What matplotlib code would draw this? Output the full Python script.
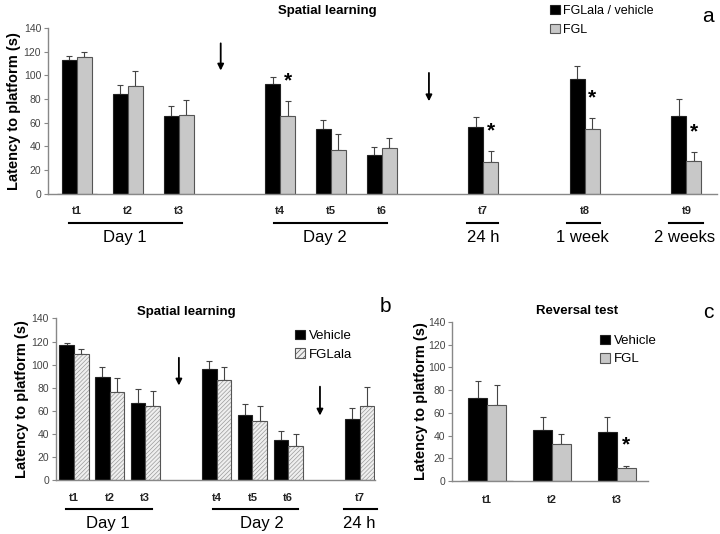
import numpy as np
import matplotlib
matplotlib.use("Agg")
import matplotlib.pyplot as plt
from matplotlib.transforms import blended_transform_factory

plt.rcParams['font.family'] = ['Liberation Sans', 'DejaVu Sans']
plt.rcParams['hatch.linewidth'] = 0.5

# ---- data: panel a (spatial learning, FGL vs FGLala/vehicle)
a_labels = ['t1', 't2', 't3', 't4', 't5', 't6', 't7', 't8', 't9']
a_vehicle = [113, 84, 65.6, 92.8, 54.3, 33, 56.6, 97, 65.6]
a_vehicle_err = [3, 7.6, 8.8, 5.6, 7.9, 6.6, 8.4, 10.7, 14.2]
a_fgl = [115.4, 91, 66.2, 65.6, 37, 38.5, 26.3, 54.3, 27.7]
a_fgl_err = [4.2, 12.8, 13, 12.4, 13, 8.5, 9.7, 9.7, 7.7]
a_sig = [False, False, False, True, False, False, True, True, True]
a_groups = ['Day 1', 'Day 2', '24 h', '1 week', '2 weeks']

# ---- data: panel b (spatial learning, vehicle vs FGLala)
b_labels = ['t1', 't2', 't3', 't4', 't5', 't6', 't7']
b_vehicle = [116.7, 89, 67.1, 96.6, 56.2, 35.1, 53.3]
b_vehicle_err = [1.7, 9.2, 11.6, 6.4, 10.1, 7.9, 9.5]
b_fglala = [109.5, 76, 64, 87, 51.6, 29.7, 64]
b_fglala_err = [4.5, 12.7, 13.5, 10.7, 12.9, 10.1, 16.4]
b_groups = ['Day 1', 'Day 2', '24 h']

# ---- data: panel c (reversal test)
c_labels = ['t1', 't2', 't3']
c_vehicle = [72.8, 45, 43.5]
c_vehicle_err = [14.8, 11.5, 13]
c_fgl = [67.2, 32.8, 11.8]
c_fgl_err = [17.4, 8.6, 1.5]
c_sig = [False, False, True]

# layout (slot positions of each trial along x)
a_slots = np.array([0, 1, 2, 4, 5, 6, 8, 10, 12])
b_slots = np.array([0, 1, 2, 4, 5, 6, 8])
c_slots = np.arange(3)

BLACK = '#000000'
GRAY = '#c8c8c8'
EDGE = '#555555'
HATCH_BG = '#efefef'
HATCH_FG = '#9a9a9a'
HATCH = '////////'


def style_axes(ax, xlim, labels, slots, labelpad=1.5):
    ax.set_xlim(*xlim)
    ax.set_ylim(0, 140)
    ax.set_yticks(range(0, 141, 20))
    for s in ['top', 'right']:
        ax.spines[s].set_visible(False)
    for s in ['left', 'bottom']:
        ax.spines[s].set_color('#888888')
        ax.spines[s].set_linewidth(1)
    ax.tick_params(axis='y', labelsize=7.5, colors='#888888', labelcolor='#444444',
                   length=3, width=0.8, pad=2)
    ax.set_xticks(slots)
    ax.set_xticklabels(labels, fontsize=8, fontweight='bold', color='#222222')
    ax.tick_params(axis='x', length=0, pad=9)
    ax.set_ylabel('Latency to platform (s)', fontsize=10.5, fontweight='bold',
                  labelpad=labelpad)


def draw_pair(ax, slots, v, verr, f, ferr, w, hatched=False):
    ax.bar(slots - w / 2, v, w, color=BLACK, edgecolor='#222222', lw=0.8, zorder=2)
    ax.errorbar(slots - w / 2, v, yerr=[np.zeros(len(v)), verr], fmt='none',
                ecolor='#444444', elinewidth=0.8, capsize=2.5, capthick=0.8, zorder=1)
    if hatched:
        # fine hatch in light grey, then a darker outline on top
        ax.bar(slots + w / 2, f, w, color=HATCH_BG, edgecolor=HATCH_FG, lw=0,
               hatch=HATCH, zorder=2)
        ax.bar(slots + w / 2, f, w, fill=False, edgecolor=EDGE, lw=0.8, zorder=3)
    else:
        ax.bar(slots + w / 2, f, w, color=GRAY, edgecolor=EDGE, lw=0.8, zorder=2)
    ax.errorbar(slots + w / 2, f, yerr=[np.zeros(len(f)), ferr], fmt='none',
                ecolor='#444444', elinewidth=0.8, capsize=2.5, capthick=0.8, zorder=1)


def group_lines(ax, spans, names, text_x, yline, ytext, size=12):
    tr = blended_transform_factory(ax.transData, ax.transAxes)
    for (x0, x1), name, tx in zip(spans, names, text_x):
        ax.plot([x0, x1], [yline, yline], color='black', lw=1.5,
                transform=tr, clip_on=False)
        ax.text(tx, ytext, name, transform=tr, ha='center', va='center',
                fontsize=size, color='black')


def arrow(ax, x, y0, y1):
    ax.annotate('', xy=(x, y1), xytext=(x, y0),
                arrowprops=dict(arrowstyle='-|>', lw=1.3, color='black',
                                mutation_scale=9, shrinkA=0, shrinkB=0))


def legend(ax, labels, anchor, hatched=False, fontsize=9.5, spacing=0.45):
    h1 = ax.bar([0], [0], color=BLACK, edgecolor='#222222', lw=0.8)
    if hatched:
        h2 = ax.bar([0], [0], color=HATCH_BG, edgecolor=EDGE, lw=0.8, hatch='//////')
    else:
        h2 = ax.bar([0], [0], color=GRAY, edgecolor=EDGE, lw=0.8)
    ax.legend([h1, h2], labels, loc='upper left', bbox_to_anchor=anchor,
              frameon=False, fontsize=fontsize, handlelength=0.75,
              handleheight=0.75, handletextpad=0.3, labelspacing=spacing,
              borderpad=0, borderaxespad=0)


fig = plt.figure(figsize=(7.2, 5.34), dpi=100)

# ---------------- panel a
ax_a = fig.add_axes([0.0667, 0.6376, 0.929, 0.310])
w_a = 0.295
draw_pair(ax_a, a_slots, a_vehicle, a_vehicle_err, a_fgl, a_fgl_err, w_a)
style_axes(ax_a, (-0.57, 12.6), a_labels, a_slots)
for s, f, e, sig in zip(a_slots, a_fgl, a_fgl_err, a_sig):
    if sig:
        ax_a.text(s + w_a / 2, f + e + 9, '*', ha='center', va='bottom',
                  fontsize=15, fontweight='bold')
arrow(ax_a, 2.83, 127, 104)
arrow(ax_a, 6.93, 102, 78)
group_lines(ax_a, [(-0.16, 2.07), (3.88, 6.1), (7.68, 8.29), (9.65, 10.3), (11.65, 12.32)],
            a_groups, [0.94, 4.88, 8.0, 9.96, 11.97], -0.178, -0.265)
ax_a.text(0.417, 1.105, 'Spatial learning', transform=ax_a.transAxes, ha='center',
          va='center', fontsize=9.5, fontweight='bold')
legend(ax_a, ['FGLala / vehicle', 'FGL'], (0.751, 1.14), fontsize=9, spacing=0.55)

# ---------------- panel b
ax_b = fig.add_axes([0.0778, 0.1006, 0.443, 0.303])
w_b = 0.41
draw_pair(ax_b, b_slots, b_vehicle, b_vehicle_err, b_fglala, b_fglala_err, w_b,
          hatched=True)
style_axes(ax_b, (-0.5, 8.43), b_labels, b_slots)
arrow(ax_b, 2.94, 106, 82)
arrow(ax_b, 6.89, 81, 56)
group_lines(ax_b, [(-0.22, 2.18), (3.89, 6.27), (7.56, 8.49)],
            b_groups, [0.95, 5.27, 8.0], -0.177, -0.27)
ax_b.text(0.41, 1.04, 'Spatial learning', transform=ax_b.transAxes, ha='center',
          va='center', fontsize=9.5, fontweight='bold')
legend(ax_b, ['Vehicle', 'FGLala'], (0.75, 0.93), hatched=True)

# ---------------- panel c
ax_c = fig.add_axes([0.628, 0.0993, 0.272, 0.298])
w_c = 0.29
draw_pair(ax_c, c_slots, c_vehicle, c_vehicle_err, c_fgl, c_fgl_err, w_c)
style_axes(ax_c, (-0.54, 2.48), c_labels, c_slots, labelpad=0)
ax_c.tick_params(axis='x', pad=10)
for s, f, e, sig in zip(c_slots, c_fgl, c_fgl_err, c_sig):
    if sig:
        ax_c.text(s + w_c / 2, f + e + 10, '*', ha='center', va='bottom',
                  fontsize=15, fontweight='bold')
ax_c.text(0.64, 1.07, 'Reversal test', transform=ax_c.transAxes, ha='center',
          va='center', fontsize=9.5, fontweight='bold')
legend(ax_c, ['Vehicle', 'FGL'], (0.755, 0.92))

# panel letters
fig.text(708 / 720, 1 - 16 / 534, 'a', fontsize=15, ha='center', va='center')
fig.text(385 / 720, 1 - 307 / 534, 'b', fontsize=15, ha='center', va='center')
fig.text(708 / 720, 1 - 312 / 534, 'c', fontsize=15, ha='center', va='center')

fig.savefig('out.png', dpi=100)
